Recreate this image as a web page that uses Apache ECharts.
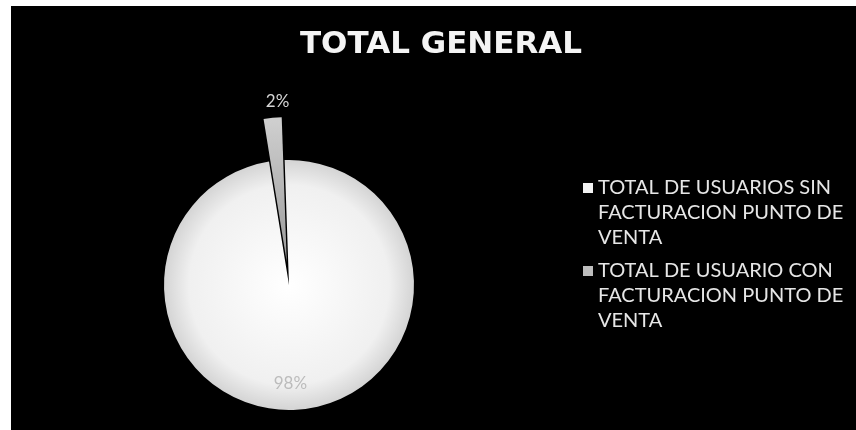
<!DOCTYPE html>
<html>
<head>
<meta charset="utf-8">
<script src="https://cdn.jsdelivr.net/npm/echarts@6/dist/echarts.min.js"></script>
<style>
  html, body { margin: 0; padding: 0; background: #ffffff; }
  #frame { position: absolute; left: 11px; top: 6px; width: 845px; height: 424px; background: #000; }
  #chart { width: 845px; height: 424px; }
</style>
</head>
<body>
<div id="frame"><div id="chart"></div></div>
<script>
// Users with / without point-of-sale invoicing (percent of total)
const categories = [
  'TOTAL DE USUARIOS SIN FACTURACION PUNTO DE VENTA',
  'TOTAL DE USUARIO CON FACTURACION PUNTO DE VENTA'
];
const shares = [98, 2];
const sliceColors = ['#f2f2f2', '#bdbdbd'];
const titleText = 'TOTAL GENERAL';

const FONT = 'Lato, "Open Sans", sans-serif';
const center = [278, 279];

// main body of the pie: the small slice is left empty here and drawn exploded below
const mainData = categories.map((name, i) => ({
  name,
  value: shares[i],
  itemStyle: i === 0 ? {
    color: {
      type: 'radial', x: 0.5, y: 0.5, r: 0.5,
      colorStops: [{ offset: 0, color: '#ffffff' }, { offset: 0.8, color: '#f0f0f0' }, { offset: 1, color: '#d4d4d4' }]
    }
  } : { color: 'transparent' },
  label: { show: i === 0 }
}));

// exploded small slice, longer than the main body
const explodedData = categories.map((name, i) => ({
  name,
  value: shares[i],
  selected: i === 1,
  itemStyle: i === 1 ? {
    color: {
      type: 'linear', x: 0, y: 0, x2: 0, y2: 1,
      colorStops: [{ offset: 0, color: '#d0d0d0' }, { offset: 1, color: '#9a9a9a' }]
    }
  } : { color: 'transparent' },
  label: { show: i === 1 }
}));

const chart = echarts.init(document.getElementById('chart'), null, { renderer: 'canvas' });
chart.setOption({
  animation: false,
  backgroundColor: '#000',
  title: {
    text: titleText,
    left: 425,
    top: 18,
    textAlign: 'center',
    textStyle: { color: '#f4f4f4', fontFamily: '"DejaVu Sans", sans-serif', fontWeight: 'bold', fontSize: 31 }
  },
  legend: {
    orient: 'vertical',
    left: 567,
    top: 164,
    itemWidth: 10,
    itemHeight: 75,
    itemGap: 8,
    icon: 'path://M0,0L0,0M0,8h10v10h-10zM0,75L0,75',
    itemStyle: { borderWidth: 0 },
    data: categories.map((name, i) => ({ name, itemStyle: { color: sliceColors[i] } })),
    textStyle: {
      color: '#e6e6e6', fontFamily: FONT, fontSize: 20, lineHeight: 25,
      width: 262, overflow: 'break'
    },
    selectedMode: false
  },
  series: [
    {
      type: 'pie',
      center,
      radius: 125,
      startAngle: 92,
      clockwise: true,
      emphasis: { disabled: true },
      itemStyle: { borderWidth: 0 },
      label: {
        position: 'inside',
        formatter: '{d}%',
        color: '#bcbcbc',
        fontFamily: FONT,
        fontSize: 17
      },
      labelLayout: { dx: -5, dy: 33 },
      data: mainData
    },
    {
      type: 'pie',
      center,
      radius: 145,
      startAngle: 92,
      clockwise: true,
      selectedMode: 'single',
      selectedOffset: 23,
      emphasis: { disabled: true },
      itemStyle: { borderWidth: 0 },
      label: {
        position: 'outside',
        formatter: '{d}%',
        color: '#d6d6d6',
        fontFamily: FONT,
        fontSize: 17
      },
      labelLine: { show: false, length: 0, length2: 0 },
      labelLayout: { align: 'center', verticalAlign: 'bottom', dx: 10, dy: -8 },
      data: explodedData
    }
  ]
});
</script>
</body>
</html>
